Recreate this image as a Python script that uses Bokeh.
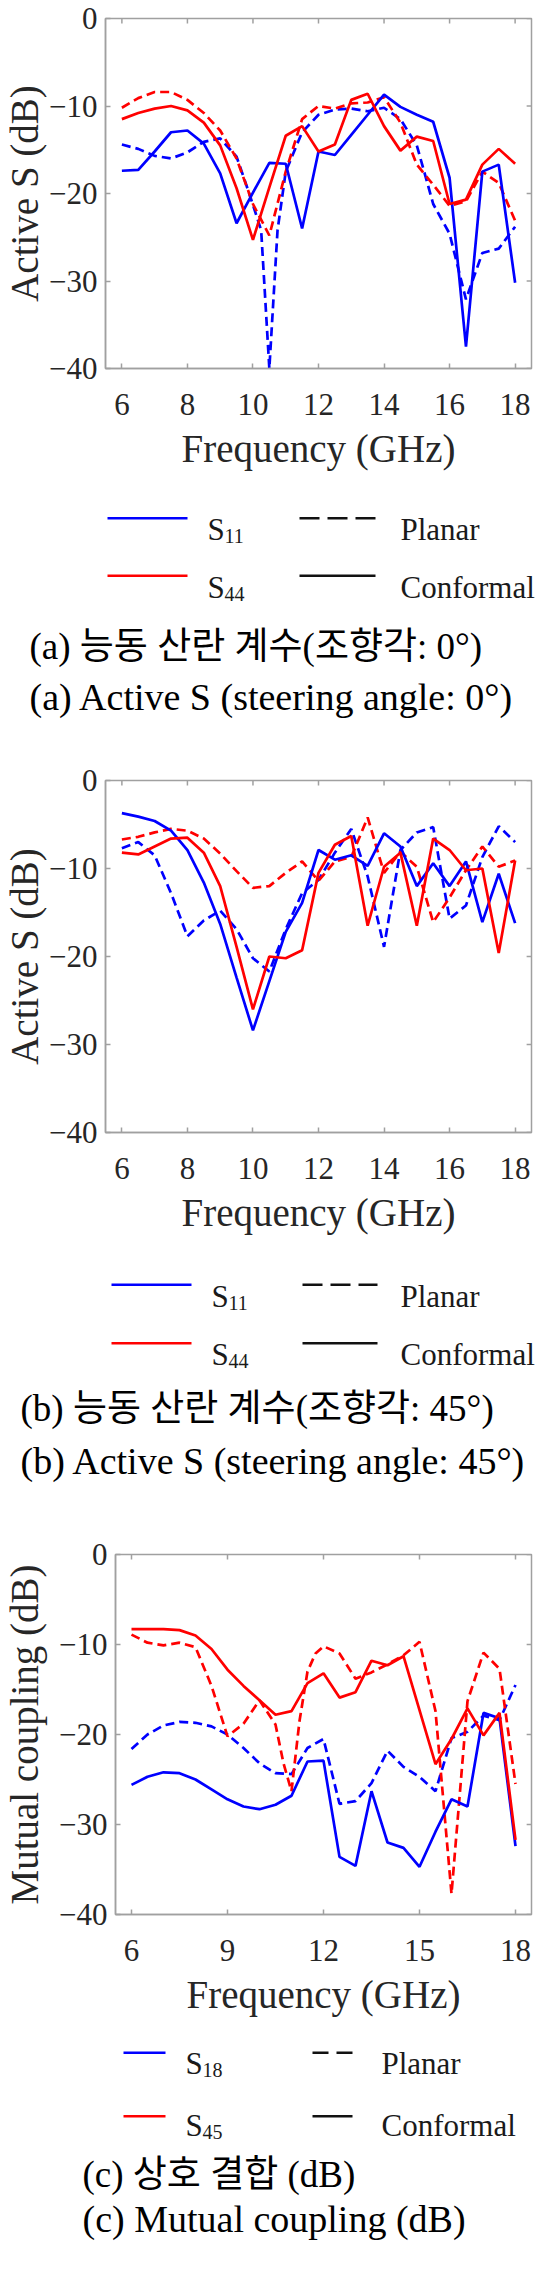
from bokeh.plotting import figure
from bokeh.layouts import column, row
from bokeh.models import Range1d, FixedTicker
from bokeh.core.properties import value
from bokeh.embed import file_html
from bokeh.resources import INLINE

# ---------------- data ----------------
freq = [6.0, 6.5, 7.0, 7.5, 8.0, 8.5, 9.0, 9.5, 10.0, 10.5, 11.0, 11.5, 12.0,
        12.5, 13.0, 13.5, 14.0, 14.5, 15.0, 15.5, 16.0, 16.5, 17.0, 17.5, 18.0]

# (a) steering angle 0 deg
a_s11_conf = [-17.4, -17.3, -15.2, -13.0, -12.8, -14.3, -17.7, -23.4, -19.9, -16.5, -16.6, -24.0, -15.2,
              -15.6, -13.3, -11.0, -8.7, -10.1, -11.0, -11.8, -18.2, -37.5, -17.5, -16.7, -30.2]
a_s44_conf = [-11.5, -10.8, -10.3, -10.0, -10.5, -11.9, -14.5, -19.4, -25.3, -19.3, -13.4, -12.3, -15.2,
              -14.4, -9.3, -8.6, -12.3, -15.1, -13.5, -14.0, -21.2, -20.7, -16.7, -14.9, -16.6]
freq_a_s11_plan = [6.0, 6.5, 7.0, 7.5, 8.0, 8.5, 9.0, 9.5, 9.75, 10.0, 10.25, 10.5, 10.75, 11.0,
                   11.5, 12.0, 12.5, 13.0, 13.5, 14.0, 14.5, 15.0, 15.5, 16.0, 16.5, 17.0, 17.5, 18.0]
a_s11_plan = [-14.4, -14.9, -15.7, -16.0, -15.3, -14.1, -13.7, -15.8, -18.5, -21.3, -24.2, -40.0, -24.2, -17.5,
              -13.0, -11.0, -10.4, -10.3, -10.6, -10.2, -11.5, -14.5, -21.2, -24.6, -32.1, -26.8, -26.3, -23.8]
a_s44_plan = [-10.2, -9.1, -8.4, -8.4, -9.3, -10.8, -12.8, -16.0, -21.2, -24.8, -17.5, -11.5, -10.0,
              -10.3, -9.7, -9.6, -9.0, -11.9, -16.7, -19.0, -21.4, -20.9, -17.5, -18.8, -23.1]

# (b) steering angle 45 deg
b_s11_conf = [-3.7, -4.1, -4.6, -5.7, -7.9, -11.6, -16.3, -22.4, -28.4, -22.8, -17.2, -13.9, -7.9,
              -9.0, -8.5, -9.7, -6.0, -7.5, -12.0, -9.4, -12.0, -9.2, -16.1, -10.6, -16.2]
b_s44_conf = [-8.2, -8.4, -7.5, -6.6, -6.5, -8.2, -12.0, -18.9, -26.0, -20.0, -20.2, -19.3, -10.5,
              -7.3, -6.3, -16.5, -9.8, -8.2, -16.5, -6.6, -7.9, -10.2, -10.0, -19.6, -9.1]
b_s11_plan = [-7.7, -7.0, -8.5, -12.8, -17.7, -15.9, -14.8, -16.9, -20.2, -21.7, -16.9, -12.8, -11.3,
              -8.2, -5.5, -10.9, -18.9, -7.9, -5.9, -5.3, -15.7, -14.2, -8.7, -5.2, -7.0]
b_s44_plan = [-6.7, -6.4, -5.9, -5.5, -5.7, -6.6, -8.3, -10.3, -12.2, -12.0, -10.5, -9.2, -11.4,
              -9.2, -8.7, -4.2, -10.5, -8.1, -9.8, -16.1, -13.3, -10.2, -7.5, -9.8, -9.1]

# (c) mutual coupling
c_s18_conf = [-25.6, -24.7, -24.2, -24.3, -25.0, -26.1, -27.2, -28.0, -28.3, -27.8, -26.8, -23.0, -22.9,
              -33.6, -34.6, -26.3, -32.0, -32.6, -34.7, -30.8, -27.2, -28.0, -17.6, -18.2, -32.4]
c_s45_conf = [-8.3, -8.3, -8.3, -8.4, -9.0, -10.5, -12.8, -14.6, -16.2, -17.8, -17.4, -14.3, -13.2,
              -15.9, -15.3, -11.8, -12.3, -11.3, -17.3, -23.3, -20.5, -17.1, -20.1, -17.6, -31.7]
c_s18_plan = [-21.6, -20.0, -19.0, -18.6, -18.7, -19.1, -20.0, -21.5, -23.2, -24.3, -24.4, -21.5, -20.5,
              -27.7, -27.4, -25.4, -21.8, -23.6, -24.7, -26.3, -20.4, -19.7, -17.9, -18.4, -14.5]
freq_c_s45_plan = [6.0, 6.5, 7.0, 7.5, 8.0, 8.5, 9.0, 9.5, 10.0, 10.5, 10.75, 11.0, 11.25, 11.5,
                   11.75, 12.0, 12.5, 13.0, 13.5, 14.0, 14.5, 15.0, 15.5, 16.0, 16.5, 17.0, 17.5, 18.0]
c_s45_plan = [-8.9, -9.8, -10.1, -9.8, -10.3, -14.6, -20.2, -18.8, -16.2, -18.9, -23.2, -26.3, -18.5, -13.0,
              -11.0, -10.2, -11.0, -13.8, -13.1, -12.2, -11.2, -9.7, -17.4, -37.7, -16.3, -10.9, -12.7, -25.5]

xticks_ab = [6, 8, 10, 12, 14, 16, 18]
xticks_c = [6, 9, 12, 15, 18]
yticks = [-40, -30, -20, -10, 0]
X_RANGE = (5.5, 18.5)
Y_RANGE = (-40, 0)

# ---------------- style ----------------
BLUE = "#0000ff"
RED = "#ff0000"
GRAY = "#a0a0a0"
TXT = "#262626"
SERIF = "Liberation Serif"
KR = "'Liberation Serif', 'Noto Sans CJK KR'"
DASH = "9 5"
LW = 2.7
PAGE_W = 535
TICK_PX = 5
CAP_FONT = ("37px", "38px")
BOTTOM = 112


def blank(w, h):
    f = figure(width=w, height=h, x_range=Range1d(0, w), y_range=Range1d(h, 0),
               output_backend="svg", toolbar_location=None, min_border=0,
               x_axis_location=None, y_axis_location=None, outline_line_color=None)
    f.grid.grid_line_color = None
    return f


def plot_fig(top, frame_h, left, ylab, ylab_standoff, xticks, series):
    right = 4
    h = top + frame_h + BOTTOM
    p = figure(width=PAGE_W, height=h, x_range=Range1d(*X_RANGE), y_range=Range1d(*Y_RANGE),
               output_backend="svg", toolbar_location=None,
               min_border_top=top, min_border_bottom=BOTTOM,
               min_border_left=left, min_border_right=right,
               outline_line_color=GRAY, outline_line_width=1.5)
    p.grid.grid_line_color = None
    p.xaxis.ticker = FixedTicker(ticks=xticks)
    p.yaxis.ticker = FixedTicker(ticks=yticks)
    for ax in (p.xaxis, p.yaxis):
        ax.major_tick_in = TICK_PX
        ax.major_tick_out = 0
        ax.minor_tick_line_color = None
        ax.axis_line_color = GRAY
        ax.axis_line_width = 1.5
        ax.major_tick_line_color = GRAY
        ax.major_tick_line_width = 1.5
        ax.major_label_text_font = SERIF
        ax.major_label_text_font_size = "31px"
        ax.major_label_text_color = TXT
        ax.axis_label_text_font = SERIF
        ax.axis_label_text_font_style = "normal"
        ax.axis_label_text_color = TXT
        ax.axis_label_text_font_size = "39px"
    p.xaxis.major_label_standoff = 25
    p.xaxis.axis_label = "Frequency (GHz)"
    p.xaxis.axis_label_standoff = 9
    p.yaxis.major_label_standoff = 8
    p.yaxis.axis_label = ylab
    p.yaxis.axis_label_standoff = ylab_standoff

    # inward ticks on the top and right edges of the box (box on)
    fw = PAGE_W - left - right
    dx = TICK_PX * (X_RANGE[1] - X_RANGE[0]) / fw
    dy = TICK_PX * (Y_RANGE[1] - Y_RANGE[0]) / frame_h
    p.segment(x0=xticks, y0=[Y_RANGE[1]] * len(xticks), x1=xticks, y1=[Y_RANGE[1] - dy] * len(xticks),
              line_color=GRAY, line_width=1.5)
    p.segment(x0=[X_RANGE[1]] * len(yticks), y0=yticks, x1=[X_RANGE[1] - dx] * len(yticks), y1=yticks,
              line_color=GRAY, line_width=1.5)

    for xs, ys, color, dash in series:
        p.line(xs, ys, line_color=color, line_width=LW, line_dash=dash)
    return p, h


def legend_fig(h, shift, line_y, base_y, samp_x, s_x, style_x, text_x, sub_labels, dash,
               captions, cap_x, cap_shift=(0, 0)):
    # shift converts positions measured on the page into this figure's pixel rows
    f = blank(PAGE_W, h)
    line_y = [v + shift for v in line_y]
    base_y = [v + shift for v in base_y]
    for ly, by, col, sub in zip(line_y, base_y, [BLUE, RED], sub_labels):
        f.line(x=list(samp_x), y=[ly, ly], line_color=col, line_width=2.5)
        f.text(x=[s_x], y=[by], text=["S"], text_font=value(SERIF), text_font_size="31px",
               text_baseline="alphabetic", text_align="left", text_color="#1a1a1a")
        f.text(x=[s_x + 17], y=[by + 6.5], text=[sub], text_font=value(SERIF),
               text_font_size="20px", text_baseline="alphabetic", text_align="left",
               text_color="#1a1a1a")
    f.line(x=list(style_x), y=[line_y[0]] * 2, line_color="#111111", line_width=2.5, line_dash=dash)
    f.line(x=list(style_x), y=[line_y[1]] * 2, line_color="#111111", line_width=2.5)
    for by, t in zip(base_y, ["Planar", "Conformal"]):
        f.text(x=[text_x], y=[by], text=[t], text_font=value(SERIF), text_font_size="31px",
               text_baseline="alphabetic", text_align="left", text_color="#1a1a1a")
    (k_text, k_y), (e_text, e_y) = captions
    f.text(x=[cap_x], y=[k_y + shift + cap_shift[0]], text=[k_text], text_font=value(KR),
           text_font_size=CAP_FONT[0], text_baseline="alphabetic", text_align="left", text_color="black")
    f.text(x=[cap_x], y=[e_y + shift + cap_shift[1]], text=[e_text], text_font=value(SERIF),
           text_font_size=CAP_FONT[1], text_baseline="alphabetic", text_align="left", text_color="black")
    return f


# ---------------- panel (a) ----------------
p1, h1 = plot_fig(18, 350, 92, "Active S (dB)", 0, xticks_ab, [
    (freq_a_s11_plan, a_s11_plan, BLUE, DASH),
    (freq, a_s44_plan, RED, DASH),
    (freq, a_s11_conf, BLUE, "solid"),
    (freq, a_s44_conf, RED, "solid"),
])
top_g1 = 8 + h1                       # 488
hg1 = 268
g1 = legend_fig(hg1, 5 - top_g1, (520.7, 578.3), (531.7, 590.0), (107, 187), 207, (299, 375), 400,
                ["11", "44"], "20 8",
                (("(a) 능동 산란 계수(조향각: 0°)", 649), ("(a) Active S (steering angle: 0°)", 699)),
                29)

# ---------------- panel (b) ----------------
p2, h2 = plot_fig(32, 352, 94, "Active S (dB)", 0, xticks_ab, [
    (freq, b_s11_plan, BLUE, DASH),
    (freq, b_s44_plan, RED, DASH),
    (freq, b_s11_conf, BLUE, "solid"),
    (freq, b_s44_conf, RED, "solid"),
])
top_g2 = top_g1 + hg1 + h2           # 1252
hg2 = 286
g2 = legend_fig(hg2, -11 - top_g2, (1303.3, 1361.7), (1315.0, 1373.3), (111, 191), 211, (302, 377), 400,
                ["11", "44"], "20 8",
                (("(b) 능동 산란 계수(조향각: 45°)", 1427), ("(b) Active S (steering angle: 45°)", 1479)),
                20)

# ---------------- panel (c) ----------------
p3, h3 = plot_fig(24, 360, 102, "Mutual coupling (dB)", 10, xticks_c, [
    (freq, c_s18_plan, BLUE, DASH),
    (freq_c_s45_plan, c_s45_plan, RED, DASH),
    (freq, c_s18_conf, BLUE, "solid"),
    (freq, c_s45_conf, RED, "solid"),
])
top_g3 = top_g2 + hg2 + h3           # 2034
hg3 = 220
g3 = legend_fig(hg3, -19 - top_g3, (2079.3, 2142.7), (2090.0, 2151.7), (123, 165), 185, (312, 352), 381,
                ["18", "45"], "16 8",
                (("(c) 상호 결합 (dB)", 2209), ("(c) Mutual coupling (dB)", 2257)),
                82, cap_shift=(-8, -12))

page = column(row(p1), row(g1), row(p2), row(g2), row(p3), row(g3), spacing=0)

open("out.html", "w").write(file_html(page, INLINE))
